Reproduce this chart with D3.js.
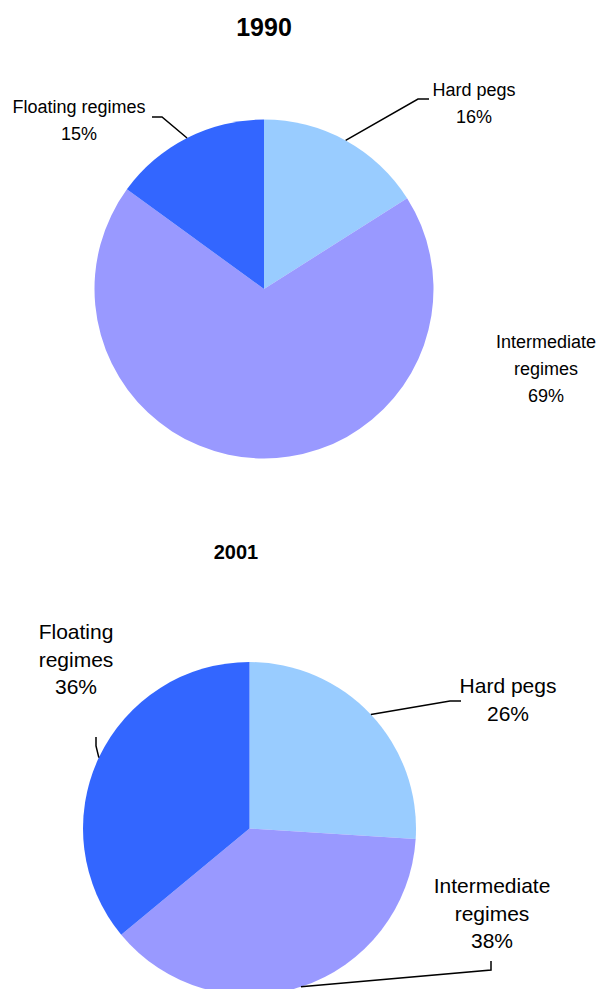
<!DOCTYPE html>
<html>
<head>
<meta charset="utf-8">
<script src="https://cdn.jsdelivr.net/npm/d3@7"></script>
<style>
  html, body { margin: 0; padding: 0; background: #fff; }
  svg { display: block; }
  text { font-family: "Liberation Sans", Arial, sans-serif; fill: #000; }
</style>
</head>
<body>
<svg id="chart" width="600" height="989"></svg>
<script>
// Exchange rate regime shares (%)
const categories = ["Hard pegs", "Intermediate regimes", "Floating regimes"];
const years = ["1990", "2001"];
const values1990 = [16, 69, 15];
const values2001 = [26, 38, 36];
const colors = ["#99CCFF", "#9999FF", "#3366FF"];

const svg = d3.select("#chart");

const color = d3.scaleOrdinal().domain(categories).range(colors);

// Layout for each pie: centre, radius, title and label placement
const panels = [
  {
    year: years[0], values: values1990,
    cx: 264, cy: 289, r: 169.5,
    title: { x: 264, y: 36, size: 25 },
    labelSize: 18, lineGap: 27,
    labels: [
      { lines: ["Hard pegs"], x: 474, y: 96, leader: [[418, 99], [429, 99]] },
      { lines: ["Intermediate", "regimes"], x: 546, y: 348, leader: null },
      { lines: ["Floating regimes"], x: 79, y: 113, leader: [[162, 117], [152, 117]] }
    ]
  },
  {
    year: years[1], values: values2001,
    cx: 249.5, cy: 828.5, r: 166.5,
    title: { x: 236, y: 559, size: 20 },
    labelSize: 21, lineGap: 27.5,
    labels: [
      { lines: ["Hard pegs"], x: 508, y: 693, leader: [[450, 701], [461, 701]] },
      { lines: ["Intermediate", "regimes"], x: 492, y: 893, leader: [[491, 970], [491, 961]] },
      { lines: ["Floating", "regimes"], x: 76, y: 639, leader: [[96, 746], [96, 737]] }
    ]
  }
];

const pie = d3.pie().sort(null).value(d => d.value);

panels.forEach(p => {
  const data = categories.map((c, i) => ({ category: c, value: p.values[i] }));
  const arcs = pie(data);
  const arc = d3.arc().innerRadius(0).outerRadius(p.r);

  const g = svg.append("g").attr("transform", `translate(${p.cx},${p.cy})`);

  g.selectAll("path")
    .data(arcs)
    .join("path")
    .attr("d", arc)
    .attr("fill", d => color(d.data.category));

  svg.append("text")
    .attr("x", p.title.x)
    .attr("y", p.title.y)
    .attr("text-anchor", "middle")
    .style("font-weight", "bold")
    .style("font-size", p.title.size + "px")
    .text(p.year);

  arcs.forEach((a, i) => {
    const lab = p.labels[i];
    const mid = (a.startAngle + a.endAngle) / 2;
    const ex = p.cx + p.r * Math.sin(mid);
    const ey = p.cy - p.r * Math.cos(mid);

    if (lab.leader) {
      const pts = [[ex, ey], ...lab.leader];
      svg.append("path")
        .attr("d", d3.line()(pts))
        .attr("fill", "none")
        .attr("stroke", "#000")
        .attr("stroke-width", 1.5);
    }

    const t = svg.append("text")
      .attr("text-anchor", "middle")
      .style("font-size", p.labelSize + "px");
    const lines = [...lab.lines, a.data.value + "%"];
    lines.forEach((s, k) => {
      t.append("tspan")
        .attr("x", lab.x)
        .attr("y", lab.y + k * p.lineGap)
        .text(s);
    });
  });
});
</script>
</body>
</html>
